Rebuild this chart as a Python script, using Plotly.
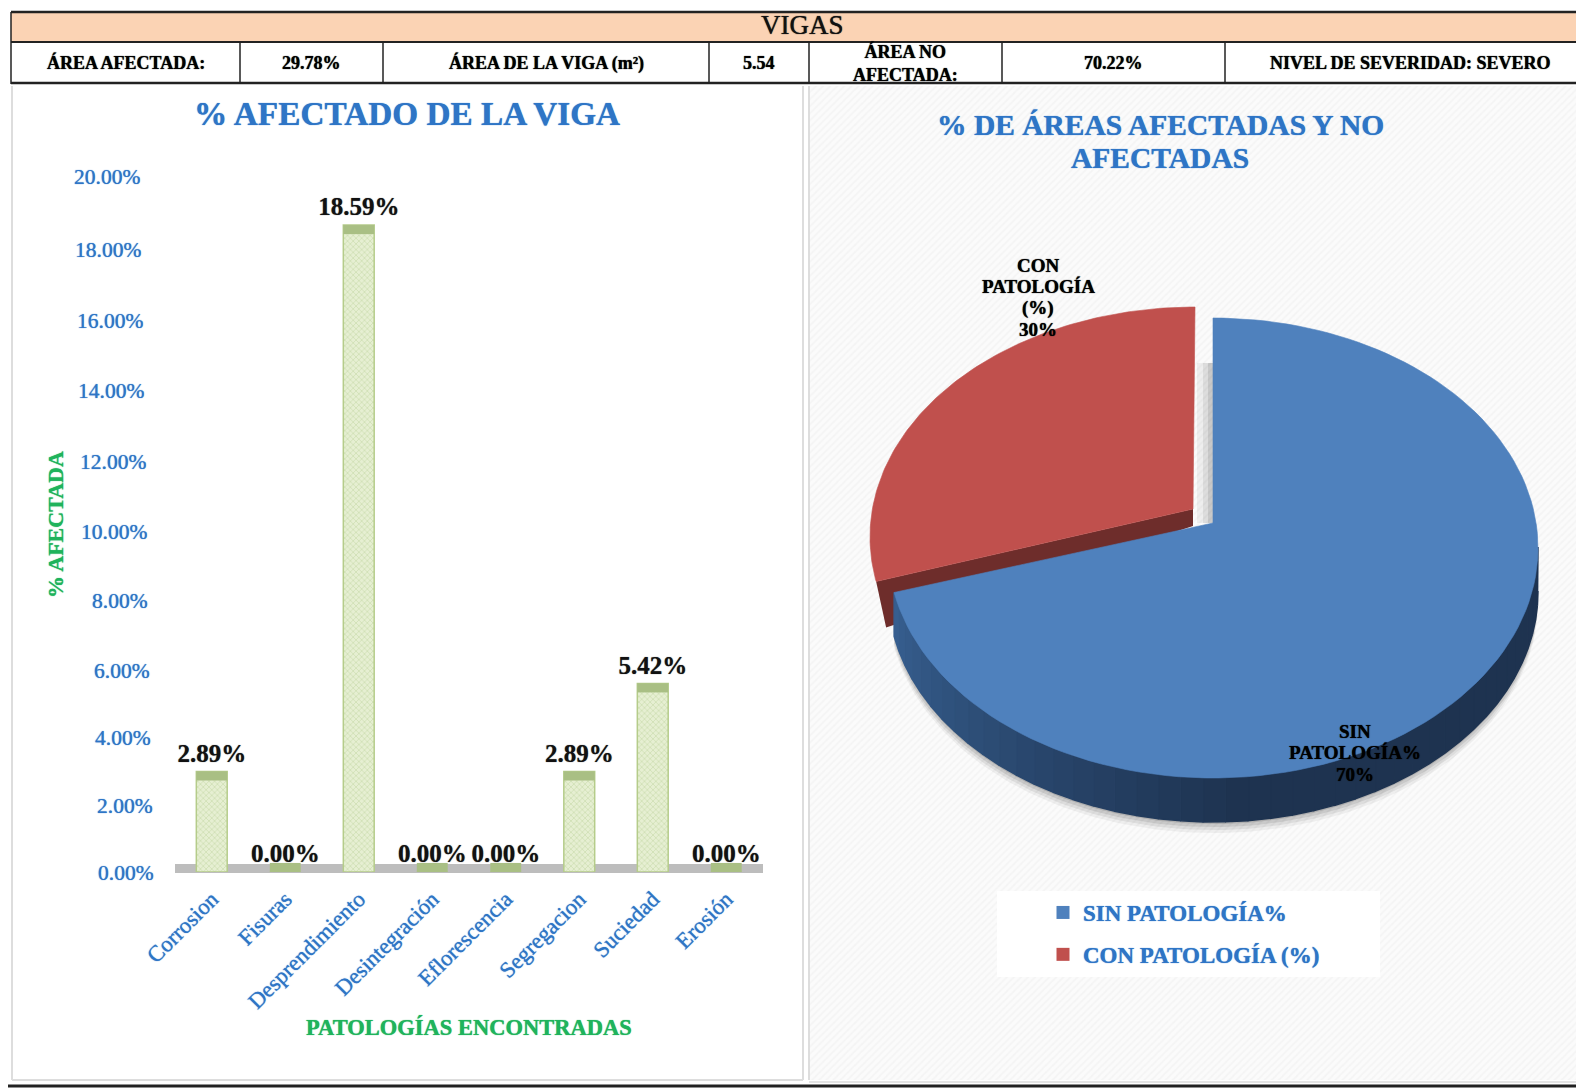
import math
import plotly.graph_objects as go

W, H = 1576, 1089

# bar chart data
categories = ['Corrosion', 'Fisuras', 'Desprendimiento', 'Desintegración', 'Eflorescencia',
              'Segregacion', 'Suciedad', 'Erosión']
pct_values = [2.89, 0.00, 18.59, 0.00, 0.00, 2.89, 5.42, 0.00]
y_ticks = [0, 2, 4, 6, 8, 10, 12, 14, 16, 18, 20]
tick_nudge = [-1, -4, -5, -8, -7, -8, -8, -6, -6, -4, -1]

# pie data
pie_labels = ['SIN PATOLOGÍA%', 'CON PATOLOGÍA (%)']
pie_values = [70.22, 29.78]

# header table
col_edges = [11, 240, 383, 709, 809, 1002, 1225, 1596]
row_texts = ['ÁREA AFECTADA:', '29.78%', 'ÁREA DE LA VIGA (m²)', '5.54',
             'ÁREA NO<br>AFECTADA:', '70.22%', 'NIVEL DE SEVERIDAD: SEVERO']

BLUE_TXT = '#2e75c6'
GREEN_TXT = '#1fb35c'
SERIF = 'Liberation Serif'


def px(x):
    return x / W


def py(y):
    return 1 - y / H


def blur(color):
    return f'0 0 1px {color}'


# pie geometry, in pixels
CX, CY, RX, RY = 1213, 548, 325, 230
APEX_Y = 523
DEPTH = 44
PANEL = (809, 86, 1576, 1080)
tilt = (CY - APEX_Y) / RY


def rim(theta):
    # circle point seen in perspective, theta clockwise from the top
    t = math.radians(theta)
    u, v = math.sin(t), math.cos(t)
    den = 1 + tilt * v
    return u * math.sqrt(1 - tilt ** 2) / den, (v + tilt) / den


def to_xy(points, dx=0, dy=0):
    # from unit rim coordinates + pixel offset to pie axis units
    xs = [p[0] + dx / RX for p in points]
    ys = [p[1] - dy / RY for p in points]
    return xs, ys


def arc(a, b, n=120):
    return [rim(a + (b - a) * i / n) for i in range(n + 1)]


apex = (0, tilt)
blue_end = pie_values[0] / sum(pie_values) * 360


def poly(xs, ys, fill, line=None, lw=0.6):
    return go.Scatter(x=xs, y=ys, xaxis='x2', yaxis='y2', mode='lines', fill='toself',
                      fillcolor=fill, line=dict(width=lw if line else 0, color=line or fill),
                      hoverinfo='skip', showlegend=False)


def label(x, y, text, size, color, **kw):
    font = dict(family=SERIF, size=size, color=color, shadow=blur(color))
    font.update(kw.pop('font', {}))
    return dict(xref='paper', yref='paper', x=px(x), y=py(y), text=text, showarrow=False, font=font,
                xanchor='center', yanchor='middle', **kw)


fig = go.Figure()

# hatched background of the right panel
x0, x1 = (PANEL[0] - CX) / RX, (PANEL[2] - CX) / RX
y1, y0 = (CY - PANEL[1]) / RY, (CY - PANEL[3]) / RY
fig.add_trace(go.Scatter(x=[x0, x1, x1, x0, x0], y=[y0, y0, y1, y1, y0], xaxis='x2', yaxis='y2',
                         mode='lines', line=dict(width=0), fill='toself', hoverinfo='skip',
                         showlegend=False,
                         fillpattern=dict(shape='/', fgcolor='#eeeeee', bgcolor='#fbfbfb', size=5, solidity=0.35)))

# soft shadows
apex_dx, apex_dy = -20, -14
red_dx, red_dy = -18, -11
for off, alpha in [(11, 0.05), (8, 0.07), (5, 0.09), (2, 0.12)]:
    xs, ys = to_xy(arc(96, blue_end), 0, DEPTH + off)
    xt, yt = to_xy(arc(blue_end, 96))
    fig.add_trace(poly(xs + xt, ys + yt, f'rgba(0,0,0,{alpha})'))
for w, alpha in [(16, 0.05), (10, 0.07), (5, 0.09)]:
    xs = [-w / RX, 0, 0, -w / RX, -w / RX]
    ys = [tilt, tilt, rim(0)[1] - 45 / RY, rim(0)[1] - 45 / RY, tilt]
    fig.add_trace(poly(xs, ys, f'rgba(0,0,0,{alpha})'))

# cut face of the red slice
e = rim(blue_end)
xs, ys = to_xy([e], red_dx, red_dy)
xa, ya = to_xy([apex], apex_dx, apex_dy)
xb, yb = to_xy([apex], apex_dx, apex_dy + 17)
xc, yc = to_xy([e], red_dx + 10, red_dy + 46)
fig.add_trace(poly(xs + xa + xb + xc, ys + ya + yb + yc, '#6e2d2b'))

# side wall of the blue slice, shaded in strips
strips = 44
for i in range(strips):
    a = 96 + (blue_end - 96) * i / strips
    b = 96 + (blue_end - 96) * (i + 1) / strips
    top = arc(a, b, 4)
    xs, ys = to_xy(top)
    xb, yb = to_xy(top[::-1], 0, DEPTH)
    k = max(0, (i / strips - 0.5) * 2)
    rgb = (int(30 + 26 * k), int(51 + 46 * k), int(80 + 66 * k))
    col = f'rgb{rgb}'
    fig.add_trace(poly(xs + xb, ys + yb, col, line=col, lw=1.5))

# pie top faces
xs, ys = to_xy([apex] + arc(0, blue_end) + [apex])
fig.add_trace(poly(xs, ys, '#4f81bd', line='#4f81bd'))
xr, yr = to_xy(arc(blue_end, 360), red_dx, red_dy)
xa, ya = to_xy([apex], apex_dx, apex_dy)
fig.add_trace(poly(xa + xr + xa, ya + yr + ya, '#c0504d', line='#c0504d'))

# legend swatches
for name, col in zip(pie_labels, ['#4f81bd', '#c0504d']):
    fig.add_trace(go.Scatter(x=[None], y=[None], xaxis='x2', yaxis='y2', mode='markers', name=name,
                             legendgroup=name,
                             marker=dict(symbol='square', size=13, color=col)))

# bars
fig.add_trace(go.Bar(x=categories, y=pct_values, width=0.42, showlegend=False, hoverinfo='skip',
                     marker=dict(color='#dfe9c8', line=dict(color='#b5cc8a', width=1.5),
                                 pattern=dict(shape='x', fgcolor='#bcd29a', bgcolor='#e6efd2', size=4, solidity=0.4))))
cap_base = [max(v - 0.26, 0) for v in pct_values]
fig.add_trace(go.Bar(x=categories, y=[0.26] * len(categories), base=cap_base, width=0.42, showlegend=False,
                     hoverinfo='skip', marker=dict(color='#a9bf84', line=dict(width=0))))
bar_text = [f'{v:.2f}%' for v in pct_values]
fig.add_trace(go.Scatter(x=categories, y=pct_values, mode='markers+text', text=bar_text, textposition='top center',
                         cliponaxis=False, showlegend=False, hoverinfo='skip',
                         marker=dict(size=4, opacity=0),
                         textfont=dict(family=SERIF, size=25, color='#111111', weight='bold', shadow=blur('#555'))))

annotations = []

# table text
for i, txt in enumerate(row_texts):
    mid = (col_edges[i] + col_edges[i + 1]) / 2
    annotations.append(label(mid, 62.5, txt, 18, '#000000', font=dict(weight='bold')))
annotations.append(label(802, 25, 'VIGAS', 27, '#111111'))

# titles
annotations.append(label(407, 114, '% AFECTADO DE LA VIGA', 33.3, BLUE_TXT, font=dict(weight='bold')))
annotations.append(label(1160, 125, '% DE ÁREAS AFECTADAS Y NO', 29.5, BLUE_TXT, font=dict(weight='bold')))
annotations.append(label(1160, 158, 'AFECTADAS', 29.5, BLUE_TXT, font=dict(weight='bold')))

# axis titles
annotations.append(label(469, 1027, 'PATOLOGÍAS ENCONTRADAS', 22.5, GREEN_TXT, font=dict(weight='bold')))
annotations.append(label(55, 525, '% AFECTADA', 22, GREEN_TXT, textangle=-90, font=dict(weight='bold')))

# the y labels lean with the 3D wall of the chart
for t, nudge in zip(y_ticks, tick_nudge):
    right = 156 - (t / 20) * 14
    annotations.append(dict(xref='paper', yref='y', x=px(right), y=t, yshift=nudge, text=f'{t:.2f}%', showarrow=False,
                            font=dict(family=SERIF, size=21.5, color=BLUE_TXT, shadow=blur(BLUE_TXT)),
                            xanchor='right', yanchor='middle'))

# pie labels, one annotation a line since the line gap is tighter than plotly's
con_lines = ['CON', 'PATOLOGÍA', '(%)', f'{pie_values[1]:.0f}%']
sin_lines = ['SIN', 'PATOLOGÍA%', f'{pie_values[0]:.0f}%']
for i, txt in enumerate(con_lines):
    annotations.append(label(1038, 265 + i * 21.5, txt, 19, '#000000', font=dict(weight='bold')))
for i, txt in enumerate(sin_lines):
    annotations.append(label(1355, 731 + i * 21.5, txt, 19, '#000000', font=dict(weight='bold')))

# frame, table and floor
shapes = [
    dict(type='rect', xref='paper', yref='paper', x0=px(11), x1=px(1576), y0=py(13), y1=py(42),
         fillcolor='#fbd3b4', line=dict(width=0), layer='below'),
    dict(type='rect', xref='paper', yref='paper', x0=px(175), x1=px(763), y0=py(864), y1=py(873),
         fillcolor='#bdbdbd', line=dict(width=0), layer='below'),
    dict(type='rect', xref='paper', yref='paper', x0=px(997), x1=px(1380), y0=py(891), y1=py(977),
         fillcolor='#ffffff', line=dict(width=0), layer='above'),
]
for (xa, ya, xb, yb, col, wid) in [
    (11, 12, 1576, 12, '#222222', 2.5),
    (11, 42, 1576, 42, '#222222', 2),
    (11, 83, 1576, 83, '#222222', 2.5),
    (8, 1086, 1576, 1086, '#222222', 3),
    (12, 86, 12, 1080, '#dddddd', 2),
    (12, 1080, 803, 1080, '#dddddd', 2),
    (803, 86, 803, 1080, '#dddddd', 2),
    (809, 86, 809, 1080, '#dddddd', 2),
    (809, 1082, 1576, 1082, '#e4e4e4', 2),
]:
    shapes.append(dict(type='line', xref='paper', yref='paper', x0=px(xa), x1=px(xb), y0=py(ya), y1=py(yb),
                       line=dict(color=col, width=wid), layer='above'))
for x in col_edges[:-1]:
    shapes.append(dict(type='line', xref='paper', yref='paper', x0=px(x), x1=px(x), y0=py(42 if x != 11 else 12), y1=py(84),
                       line=dict(color='#222222', width=1.5), layer='above'))

fig.update_layout(
    width=W, height=H, autosize=False,
    margin=dict(l=0, r=0, t=0, b=0, pad=0),
    paper_bgcolor='#ffffff', plot_bgcolor='rgba(0,0,0,0)',
    barmode='overlay',
    shapes=shapes,
    annotations=annotations,
    xaxis=dict(domain=[px(175), px(763)], anchor='y', type='category', automargin=False, showgrid=False, zeroline=False,
               showline=False, ticks='outside', ticklen=4, tickcolor='rgba(0,0,0,0)', tickangle=-45,
               tickfont=dict(family=SERIF, size=22.5, color=BLUE_TXT, shadow=blur(BLUE_TXT))),
    yaxis=dict(domain=[py(872), py(176)], anchor='x', range=[0, 20], automargin=False, showgrid=False, zeroline=False,
               showline=False, showticklabels=False, tickvals=y_ticks),
    xaxis2=dict(domain=[px(PANEL[0]), px(PANEL[2])], anchor='y2', range=[x0, x1], visible=False, automargin=False,
                fixedrange=True),
    yaxis2=dict(domain=[py(PANEL[3]), py(PANEL[1])], anchor='x2', range=[y0, y1], visible=False, automargin=False,
                fixedrange=True),
    showlegend=True,
    legend=dict(x=px(1043), y=py(891), xanchor='left', yanchor='top', bgcolor='rgba(0,0,0,0)', tracegroupgap=9,
                font=dict(family=SERIF, size=23, color=BLUE_TXT, weight='bold', shadow=blur(BLUE_TXT))),
)

# page margin off so the sheet fills the window
fig.write_html('out.html', config={'displayModeBar': False},
               post_script="document.body.style.margin='0';document.documentElement.style.overflow='hidden';")
